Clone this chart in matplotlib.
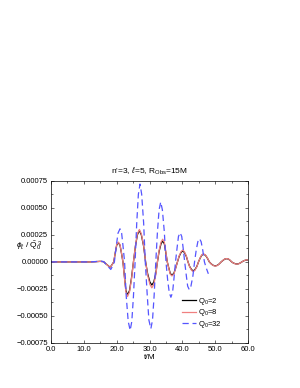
import matplotlib
matplotlib.use("Agg")
import matplotlib.pyplot as plt
from matplotlib.ticker import MultipleLocator

plt.rcParams['font.family'] = ['Liberation Sans', 'DejaVu Sans']
plt.rcParams['mathtext.fontset'] = 'custom'
plt.rcParams['mathtext.rm'] = 'Liberation Sans'
plt.rcParams['mathtext.it'] = 'Liberation Sans:italic'

# values in units of 1e-5
t_q2 = [0, 5, 10, 12, 13.5, 15, 16, 17, 18, 18.6, 19.1, 19.6, 20.0, 20.5, 21.0, 21.4, 21.9,
        22.4, 22.8, 23.3, 23.9, 24.5, 25.1, 25.7, 26.3, 26.9, 27.5, 28.2, 28.8,
        29.4, 30.1, 30.7, 31.3, 31.9, 32.4, 32.9, 33.5, 34.0, 34.5, 34.9, 35.4,
        35.9, 36.3, 36.8, 37.4, 37.9, 38.5, 39.0, 39.6, 40.1, 40.6, 41.2, 41.7,
        42.2, 42.8, 43.3, 43.8, 44.4, 44.9, 45.4, 45.9, 46.4, 47.0, 47.6, 48.2,
        48.8, 49.4, 50.0, 50.6, 51.2, 51.8, 52.4, 52.9, 53.5, 54.0, 54.5, 55.0,
        55.5, 56.1, 56.6, 57.1, 57.6, 58.1, 58.6, 59.1, 59.6, 60.0]
v_q2 = [0, 0, 0, 0, 0.2, 0.5, 0.2, -2.5, -5, -2.5, 0, 9, 15.5, 17.8, 15.5, 9, 0,
        -15, -26.5, -30.6, -26.5, -15, 0, 14.5, 25, 29.1, 25, 14.5, 0,
        -10.7, -18.6, -21.4, -18.6, -10.7, 0, 9.6, 16.8, 19.3, 16.8, 9.6, 0,
        -6.1, -10.6, -12.2, -10.6, -6.1, 0, 5, 8.8, 10.1, 8.8, 5, 0,
        -4.2, -7.2, -8.3, -7.2, -4.2, 0, 3.5, 6.2, 7.1, 6.2, 3.5, 0,
        -1.9, -3.2, -3.7, -3.2, -1.9, 0, 1.5, 2.6, 3.0, 2.6, 1.5, 0,
        -1.0, -1.7, -2.0, -1.7, -1.0, 0, 0.9, 1.5, 1.8, 1.6]

t_q8 = t_q2
v_q8 = [0, 0, 0, 0, 0.2, 0.5, 0.2, -2.5, -5.2, -2.6, 0, 9.3, 16, 18.3, 16, 9.3, 0,
        -16, -27.8, -32, -27.8, -16, 0, 15, 26, 30, 26, 15, 0,
        -12, -20.8, -24, -20.8, -12, 0, 10.5, 18.3, 21, 18.3, 10.5, 0,
        -6.5, -11.3, -13, -11.3, -6.5, 0, 5.5, 9.5, 11, 9.5, 5.5, 0,
        -4.5, -7.8, -9, -7.8, -4.5, 0, 3.7, 6.5, 7.5, 6.5, 3.7, 0,
        -2, -3.4, -3.9, -3.4, -2, 0, 1.6, 2.7, 3.1, 2.7, 1.6, 0,
        -1.0, -1.8, -2.1, -1.8, -1.0, 0, 0.9, 1.6, 1.9, 1.7]

t_q32 = [0, 5, 10, 12, 13.5, 15, 16, 17, 18.2, 18.8, 19.3, 19.9, 20.4, 21.0, 21.5, 21.9, 22.4,
         22.9, 23.5, 24.1, 24.6, 25.1, 25.6, 26.1, 26.6, 27.1, 27.6, 28.2, 28.7,
         29.3, 29.8, 30.4, 30.9, 31.4, 31.9, 32.4, 32.9, 33.4, 33.9, 34.5, 35.0,
         35.5, 36.0, 36.5, 37.0, 37.4, 37.9, 38.4, 38.8, 39.3, 39.8, 40.2, 40.7,
         41.2, 41.6, 42.1, 42.6, 43.2, 43.7, 44.2, 44.7, 45.2, 45.7, 46.2, 46.7,
         47.3, 47.9]
v_q32 = [0, 0, 0, 0, 0.3, 0.8, 0.3, -3, -7, -3.5, 0, 15.3, 26.6, 30.6, 26.6, 15.3, 0,
         -31.7, -55, -63.3, -55, -31.7, 0, 36, 62.6, 72, 62.6, 36, 0,
         -30.9, -53.8, -61.8, -53.8, -30.9, 0, 27.7, 48.2, 55.4, 48.2, 27.7, 0,
         -16.4, -28.4, -32.7, -28.4, -16.4, 0, 13.5, 23.5, 27, 23.5, 13.5, 0,
         -12.9, -22.4, -25.7, -22.4, -12.9, 0, 10.8, 18.7, 21.5, 18.7, 10.8, 0,
         -6, -11]

ytick_vals = [-0.00075, -0.0005, -0.00025, 0.0, 0.00025, 0.0005, 0.00075]
ytick_labels = ['\u22120.00075', '\u22120.00050', '\u22120.00025', '0.00000',
                '0.00025', '0.00050', '0.00075']
xtick_vals = [0, 10, 20, 30, 40, 50, 60]
xtick_labels = ['0.0', '10.0', '20.0', '30.0', '40.0', '50.0', '60.0']

fig = plt.figure(figsize=(3.0, 3.88), dpi=100)
ax = fig.add_axes([0.17, 0.116, 0.657, 0.418])

sc = 1e-5
ax.plot(t_q2, [v * sc for v in v_q2], color='black', lw=0.9, label='Q$_0$=2')
ax.plot(t_q8, [v * sc for v in v_q8], color='#f08080', lw=0.9, label='Q$_0$=8')
ax.plot(t_q32, [v * sc for v in v_q32], color='#5555ff', lw=0.9, dashes=(5, 3), label='Q$_0$=32')

ax.set_xlim(0, 60)
ax.set_ylim(-0.00075, 0.00075)
ax.set_xticks(xtick_vals, xtick_labels)
ax.set_yticks(ytick_vals, ytick_labels)
ax.xaxis.set_minor_locator(MultipleLocator(5))
ax.yaxis.set_minor_locator(MultipleLocator(0.000125))
ax.tick_params(which='both', direction='in', top=True, right=True, labelsize=5.5,
               width=0.4, pad=2)
ax.tick_params(which='major', length=2.5)
ax.tick_params(which='minor', length=1.5)
for s in ax.spines.values():
    s.set_linewidth(0.5)

ax.set_xlabel('t/M', fontsize=6, labelpad=1)
ax.text(-0.11, 0.593, r'$\phi_\ell\ /\ \tilde{\mathrm{Q}}_0^{\ 3}$', transform=ax.transAxes,
        fontsize=6, ha='center', va='center')
ax.set_title(r"n'=3, $\ell$=5, R$_{\mathrm{Obs}}$=15M", fontsize=6, pad=5)

ax.legend(loc='center left', bbox_to_anchor=(0.665, 0.185), frameon=False, fontsize=5.5,
          handlelength=1.8, labelspacing=0.05, handletextpad=0.3,
          borderpad=0, borderaxespad=0)

fig.savefig('out.png', dpi=100)
